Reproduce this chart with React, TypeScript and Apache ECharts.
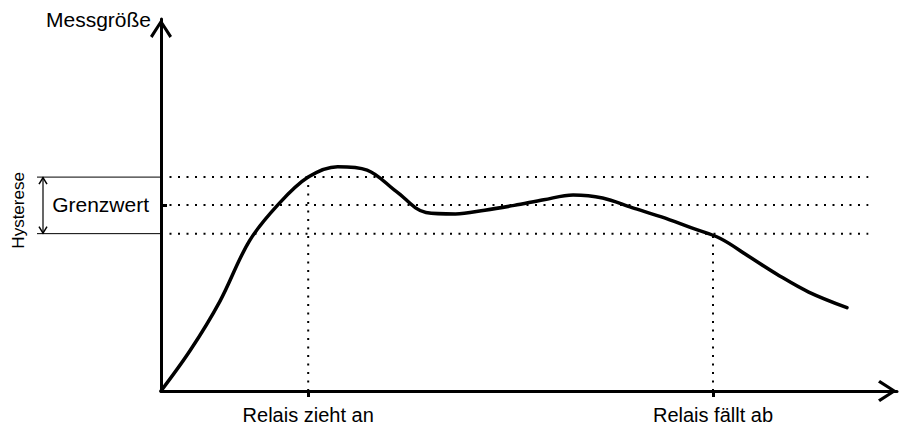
import React, { useEffect, useRef } from "react";
import * as echarts from "echarts";

// Measured signal over time (arbitrary units, 0..100 on both axes)
const curveX = [0, 4, 8, 12, 16, 20, 24, 28, 32, 36, 40, 44, 48, 52, 56, 60, 64, 68, 72, 76, 80, 84, 88, 93.2];
const curveY = [0, 11.0, 24.1, 40.3, 50.3, 57.5, 60.3, 59.4, 53.6, 48.0, 47.6, 48.6, 49.9, 51.4, 52.7, 51.9, 49.3, 46.8, 43.9, 41.0, 36.0, 31.0, 26.6, 22.4];

// Threshold levels
const upperThreshold = 57.5;
const limitValue = 50;
const lowerThreshold = 42.3;
const dottedEnd = 96.1;

// Switching events on the time axis
const eventValues = [20, 75];
const eventLabels = ["Relais zieht an", "Relais fällt ab"];
const eventLevels = [upperThreshold, lowerThreshold];

const yAxisTitle = "Messgröße";
const limitLabel = "Grenzwert";
const hysteresisLabel = "Hysterese";

const FONT = "'Liberation Sans', Arial, sans-serif";
const CHEVRON = "path://M11,0 L22,17 L19.5,19 L11,5.5 L2.5,19 L0,17 Z";

export default function App() {
  const ref = useRef<HTMLDivElement>(null);

  useEffect(() => {
    if (!ref.current) return;
    const chart = echarts.init(ref.current, undefined, { renderer: "svg" });

    const dotted = { color: "#000", width: 2, type: [2, 6.5] as number[], cap: "butt" };
    const dottedSeries = (data: number[][]) => ({
      type: "line",
      data,
      showSymbol: false,
      symbol: "none",
      silent: true,
      lineStyle: dotted,
      z: 1,
    });

    chart.setOption({
      animation: false,
      grid: { left: 161, right: 4, top: 19, bottom: 37 },
      xAxis: {
        type: "value",
        min: 0,
        max: 100,
        splitLine: { show: false },
        axisLine: {
          show: true,
          onZero: false,
          lineStyle: { color: "#000", width: 3 },
          symbol: ["none", CHEVRON],
          symbolSize: [22, 19],
          symbolOffset: [0, -9.5],
        },
        axisTick: {
          show: true,
          customValues: eventValues,
          length: 6,
          lineStyle: { color: "#000", width: 3 },
        },
        axisLabel: {
          show: true,
          customValues: eventValues,
          margin: 14,
          color: "#000",
          fontSize: 20,
          fontFamily: FONT,
          formatter: (v: number) => {
            const i = eventValues.indexOf(v);
            return i >= 0 ? eventLabels[i] : "";
          },
        },
      },
      yAxis: {
        type: "value",
        min: 0,
        max: 100,
        splitLine: { show: false },
        axisLine: {
          show: true,
          onZero: false,
          lineStyle: { color: "#000", width: 3 },
          symbol: ["none", CHEVRON],
          symbolSize: [22, 19],
          symbolOffset: [0, -9.5],
        },
        axisTick: {
          show: true,
          inside: true,
          customValues: [limitValue],
          length: 6,
          lineStyle: { color: "#000", width: 3 },
        },
        axisLabel: { show: false },
      },
      series: [
        dottedSeries([[0, upperThreshold], [dottedEnd, upperThreshold]]),
        dottedSeries([[0, limitValue], [dottedEnd, limitValue]]),
        dottedSeries([[0, lowerThreshold], [dottedEnd, lowerThreshold]]),
        ...eventValues.map((v, i) => dottedSeries([[v, 0], [v, eventLevels[i]]])),
        {
          type: "line",
          data: curveX.map((x, i) => [x, curveY[i]]),
          smooth: 0.35,
          showSymbol: false,
          symbol: "none",
          lineStyle: { color: "#000", width: 3.5, cap: "round", join: "round" },
          z: 5,
        },
      ],
    });

    const px = (x: number, y: number) => chart.convertToPixel({ gridIndex: 0 }, [x, y]) as number[];
    const [axX, topY] = px(0, 100);
    const yUp = px(0, upperThreshold)[1];
    const yLim = px(0, limitValue)[1];
    const yLow = px(0, lowerThreshold)[1];
    const bracketLeft = axX - 124;
    const arrowX = axX - 118;
    const thin = { stroke: "#000", lineWidth: 1 };

    chart.setOption({
      graphic: [
        {
          type: "text",
          x: axX - 10,
          y: topY + 0.5,
          style: { text: yAxisTitle, fill: "#000", font: `21px ${FONT}`, align: "right", verticalAlign: "middle" },
        },
        {
          type: "text",
          x: axX - 12,
          y: yLim - 1,
          style: { text: limitLabel, fill: "#000", font: `21px ${FONT}`, align: "right", verticalAlign: "middle" },
        },
        {
          type: "text",
          x: 18,
          y: (yUp + yLow) / 2 + 5,
          rotation: Math.PI / 2,
          style: { text: hysteresisLabel, fill: "#000", font: `17px ${FONT}`, align: "center", verticalAlign: "middle" },
        },
        { type: "line", shape: { x1: bracketLeft, y1: yUp, x2: axX, y2: yUp }, style: thin },
        { type: "line", shape: { x1: bracketLeft, y1: yLow, x2: axX, y2: yLow }, style: thin },
        { type: "line", shape: { x1: arrowX, y1: yUp, x2: arrowX, y2: yLow }, style: { ...thin, lineWidth: 1.2 } },
        { type: "polyline", shape: { points: [[arrowX - 4, yUp + 7], [arrowX, yUp + 0.5], [arrowX + 4, yUp + 7]] }, style: { ...thin, lineWidth: 1.5, fill: "none" } },
        { type: "polyline", shape: { points: [[arrowX - 4, yLow - 7], [arrowX, yLow - 0.5], [arrowX + 4, yLow - 7]] }, style: { ...thin, lineWidth: 1.5, fill: "none" } },
      ],
    });

    return () => chart.dispose();
  }, []);

  return (
    <div
      ref={ref}
      style={{ position: "fixed", left: 0, top: 0, width: 901, height: 428, background: "#fff" }}
    />
  );
}
